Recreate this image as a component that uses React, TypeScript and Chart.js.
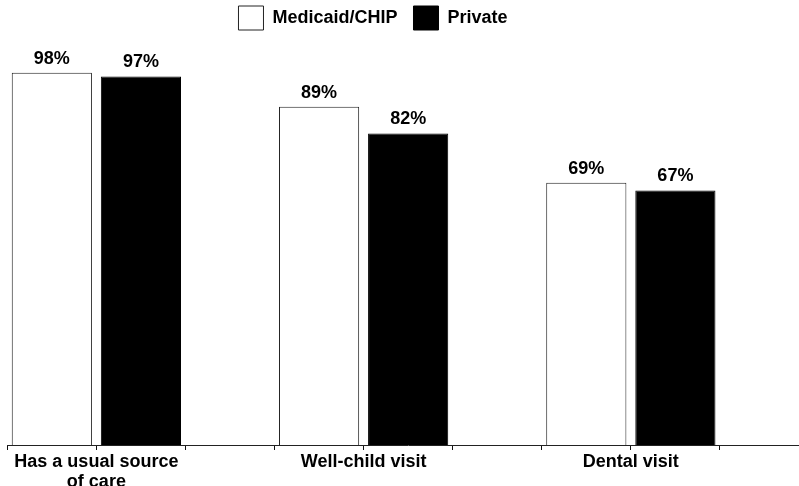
import React, { useEffect, useRef } from "react";
import { Chart, registerables } from "chart.js";

Chart.register(...registerables);

const categories: (string | string[])[] = [["Has a usual source", "of care"], "Well-child visit", "Dental visit"];
const seriesNames = ["Medicaid/CHIP", "Private"];
const medicaidCHIP = [98, 89, 69];
const privateIns = [97, 82, 67];

// each category occupies three slots: Medicaid/CHIP bar, Private bar, empty gap
const slotLabels = categories.flatMap((c) => [c, "", ""]);
const medicaidSlots = medicaidCHIP.flatMap((v) => [v, null, null]);
const privateSlots = privateIns.flatMap((v) => [null, v, null]);

const FONT = "'Liberation Sans', Arial, sans-serif";

const valueLabels = {
  id: "valueLabels",
  afterDatasetsDraw(chart: any) {
    const ctx = chart.ctx;
    ctx.save();
    ctx.font = `bold 18px ${FONT}`;
    ctx.fillStyle = "#000";
    ctx.textAlign = "center";
    ctx.textBaseline = "alphabetic";
    chart.data.datasets.forEach((ds: any, di: number) => {
      const meta = chart.getDatasetMeta(di);
      meta.data.forEach((el: any, i: number) => {
        const v = ds.data[i];
        if (v === null || v === undefined) return;
        ctx.fillText(`${v}%`, el.x, el.y - 9);
      });
    });
    ctx.restore();
  },
};

export default function App() {
  const ref = useRef<HTMLCanvasElement | null>(null);
  useEffect(() => {
    if (!ref.current) return;
    const chart = new Chart(ref.current, {
      type: "bar",
      data: {
        labels: slotLabels,
        datasets: [
          {
            label: seriesNames[0],
            data: medicaidSlots,
            backgroundColor: "#ffffff",
            borderColor: "#222222",
            borderWidth: 1,
            grouped: false,
            barPercentage: 0.9,
            categoryPercentage: 1,
          },
          {
            label: seriesNames[1],
            data: privateSlots,
            backgroundColor: "#000000",
            borderColor: "#000000",
            borderWidth: 1,
            grouped: false,
            barPercentage: 0.9,
            categoryPercentage: 1,
          },
        ],
      },
      options: {
        responsive: false,
        animation: false,
        layout: { padding: 0 },
        plugins: {
          legend: {
            display: true,
            position: "top",
            labels: {
              boxWidth: 25,
              boxHeight: 24,
              padding: 16,
              color: "#000",
              font: { family: FONT, size: 18, weight: "bold" },
            },
          },
          tooltip: { enabled: false },
        },
        scales: {
          x: {
            grid: {
              display: true,
              drawOnChartArea: false,
              drawTicks: true,
              tickLength: 5,
              color: "#111",
              offset: true,
            },
            border: { display: true, color: "#222", width: 1 },
            ticks: {
              autoSkip: false,
              maxRotation: 0,
              minRotation: 0,
              color: "#000",
              padding: 2,
              labelOffset: 44.54,
              font: { family: FONT, size: 18, weight: "bold", lineHeight: 1.1 },
            },
            afterFit: (s: any) => {
              s.height = 50;
            },
          },
          y: {
            min: 0,
            max: 106.6,
            grid: { display: false },
            border: { display: false },
            ticks: { display: false },
            afterFit: (s: any) => {
              s.width = 70.3;
            },
          },
        },
      },
      plugins: [valueLabels],
    } as any);
    return () => chart.destroy();
  }, []);

  return (
    <div
      style={{
        position: "fixed",
        left: 0,
        top: 0,
        width: 799,
        height: 486,
        overflow: "hidden",
        background: "#fff",
      }}
    >
      <canvas
        ref={ref}
        width={872}
        height={505}
        style={{ position: "absolute", left: -63, top: -10, width: 872, height: 505 }}
      />
    </div>
  );
}
